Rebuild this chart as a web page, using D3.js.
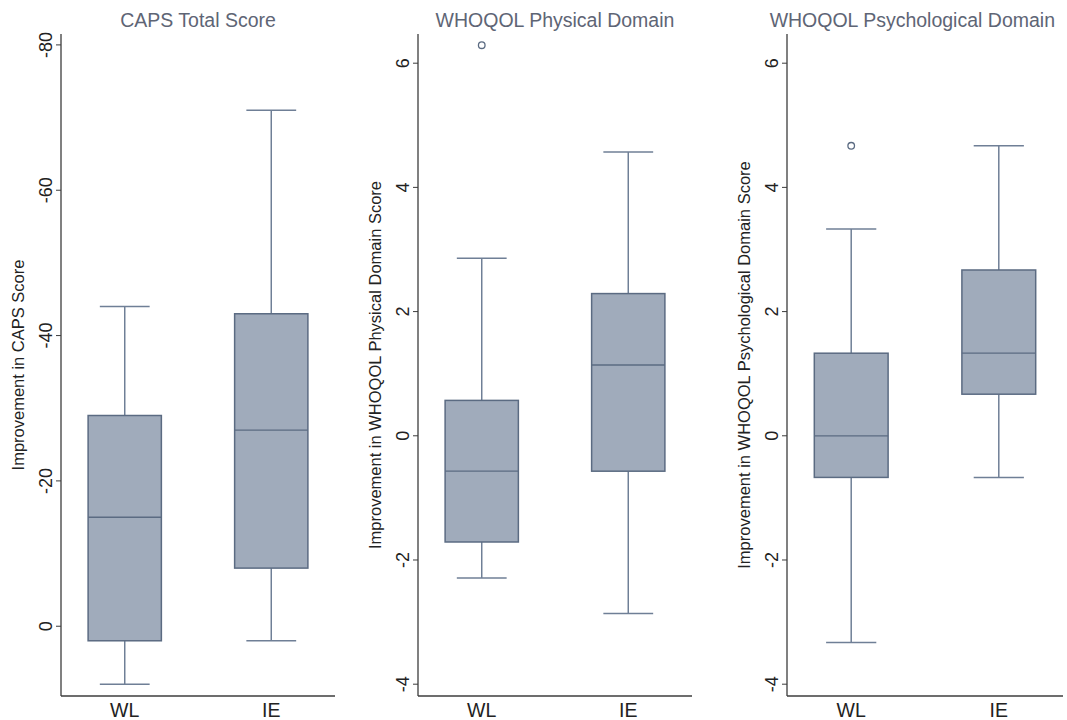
<!DOCTYPE html>
<html>
<head>
<meta charset="utf-8">
<script src="https://cdn.jsdelivr.net/npm/d3@7"></script>
<style>
  body { margin: 0; background: #fff; }
  text { font-family: "Liberation Sans", Arial, sans-serif; }
</style>
</head>
<body>
<div id="chart"></div>
<script>
// Data: [lower whisker, Q1, median, Q3, upper whisker]
const groups = ["WL", "IE"];
const panelTitles = ["CAPS Total Score", "WHOQOL Physical Domain", "WHOQOL Psychological Domain"];
const yLabels = ["Improvement in CAPS Score", "Improvement in WHOQOL Physical Domain Score", "Improvement in WHOQOL Psychological Domain Score"];

const capsWL = [8, 2, -15, -29, -44];
const capsIE = [2, -8, -27, -43, -71];
const capsOutliers = [[], []];
const capsTicks = [-80, -60, -40, -20, 0];
const capsDomain = [9.6, -81.5];

const physWL = [-2.29, -1.71, -0.57, 0.57, 2.86];
const physIE = [-2.86, -0.57, 1.14, 2.29, 4.57];
const physOutliers = [[6.29], []];

const psychWL = [-3.33, -0.67, 0, 1.33, 3.33];
const psychIE = [-0.67, 0.67, 1.33, 2.67, 4.67];
const psychOutliers = [[4.67], []];

const whoqolTicks = [-4, -2, 0, 2, 4, 6];
const whoqolDomain = [-4.19, 6.47];

const panels = [
  { title: panelTitles[0], label: yLabels[0], stats: [capsWL, capsIE], outliers: capsOutliers, ticks: capsTicks, domain: capsDomain, left: 61, right: 335 },
  { title: panelTitles[1], label: yLabels[1], stats: [physWL, physIE], outliers: physOutliers, ticks: whoqolTicks, domain: whoqolDomain, left: 418, right: 692 },
  { title: panelTitles[2], label: yLabels[2], stats: [psychWL, psychIE], outliers: psychOutliers, ticks: whoqolTicks, domain: whoqolDomain, left: 787, right: 1063 }
];

const width = 1067;
const height = 720;
const plotTop = 34;
const plotBottom = 696;

const boxFill = "#a0abbb";
const boxStroke = "#5b6b82";
const whiskerColor = "#6f7f96";
const axisColor = "#3c3c3c";

const svg = d3.select("#chart")
  .append("svg")
  .attr("width", width)
  .attr("height", height);

panels.forEach(p => {
  const g = svg.append("g");

  const y = d3.scaleLinear().domain(p.domain).range([plotBottom, plotTop]);
  const x = d3.scalePoint().domain(groups).range([p.left, p.right]).padding(0.435);
  const step = x.step();
  const boxW = step * 0.5;
  const capW = step * 0.34;

  // Axes
  g.append("line")
    .attr("x1", p.left).attr("x2", p.left)
    .attr("y1", plotTop).attr("y2", plotBottom)
    .attr("stroke", axisColor).attr("stroke-width", 1.3);
  g.append("line")
    .attr("x1", p.left).attr("x2", p.right)
    .attr("y1", plotBottom).attr("y2", plotBottom)
    .attr("stroke", axisColor).attr("stroke-width", 1.3);

  // y ticks
  p.ticks.forEach(t => {
    g.append("line")
      .attr("x1", p.left - 5).attr("x2", p.left)
      .attr("y1", y(t)).attr("y2", y(t))
      .attr("stroke", axisColor).attr("stroke-width", 1);
    g.append("text")
      .attr("transform", `translate(${p.left - 9},${y(t)}) rotate(-90)`)
      .attr("text-anchor", "middle")
      .attr("font-size", 18)
      .attr("fill", "#222")
      .text(t);
  });

  // y label
  g.append("text")
    .attr("transform", `translate(${p.left - 37},${(plotTop + plotBottom) / 2}) rotate(-90)`)
    .attr("text-anchor", "middle")
    .attr("font-size", 16.5)
    .attr("fill", "#222")
    .text(p.label);

  // x labels
  groups.forEach(gr => {
    g.append("text")
      .attr("x", x(gr)).attr("y", 717)
      .attr("text-anchor", "middle")
      .attr("font-size", 19.5)
      .attr("fill", "#222")
      .text(gr);
  });

  // title
  const title = g.append("text")
    .attr("x", (p.left + p.right) / 2).attr("y", 27)
    .attr("text-anchor", "middle")
    .attr("font-size", 19.5)
    .attr("fill", "#5e6575")
    .text(p.title);
  const tw = title.node().getComputedTextLength();
  if ((p.left + p.right) / 2 + tw / 2 > width - 12) {
    title.attr("x", width - 12 - tw / 2);
  }

  // boxes
  groups.forEach((gr, i) => {
    const [lo, q1, med, q3, hi] = p.stats[i];
    const cx = x(gr);

    g.append("line")
      .attr("x1", cx).attr("x2", cx).attr("y1", y(q3)).attr("y2", y(hi))
      .attr("stroke", whiskerColor).attr("stroke-width", 1.5);
    g.append("line")
      .attr("x1", cx).attr("x2", cx).attr("y1", y(q1)).attr("y2", y(lo))
      .attr("stroke", whiskerColor).attr("stroke-width", 1.5);
    g.append("line")
      .attr("x1", cx - capW / 2).attr("x2", cx + capW / 2).attr("y1", y(hi)).attr("y2", y(hi))
      .attr("stroke", whiskerColor).attr("stroke-width", 1.5);
    g.append("line")
      .attr("x1", cx - capW / 2).attr("x2", cx + capW / 2).attr("y1", y(lo)).attr("y2", y(lo))
      .attr("stroke", whiskerColor).attr("stroke-width", 1.5);

    g.append("rect")
      .attr("x", cx - boxW / 2)
      .attr("y", Math.min(y(q1), y(q3)))
      .attr("width", boxW)
      .attr("height", Math.abs(y(q1) - y(q3)))
      .attr("fill", boxFill)
      .attr("stroke", boxStroke).attr("stroke-width", 1.5);
    g.append("line")
      .attr("x1", cx - boxW / 2).attr("x2", cx + boxW / 2).attr("y1", y(med)).attr("y2", y(med))
      .attr("stroke", boxStroke).attr("stroke-width", 1.3);

    p.outliers[i].forEach(o => {
      g.append("circle")
        .attr("cx", cx).attr("cy", y(o)).attr("r", 3.3)
        .attr("fill", "none")
        .attr("stroke", boxStroke).attr("stroke-width", 1.3);
    });
  });
});
</script>
</body>
</html>
